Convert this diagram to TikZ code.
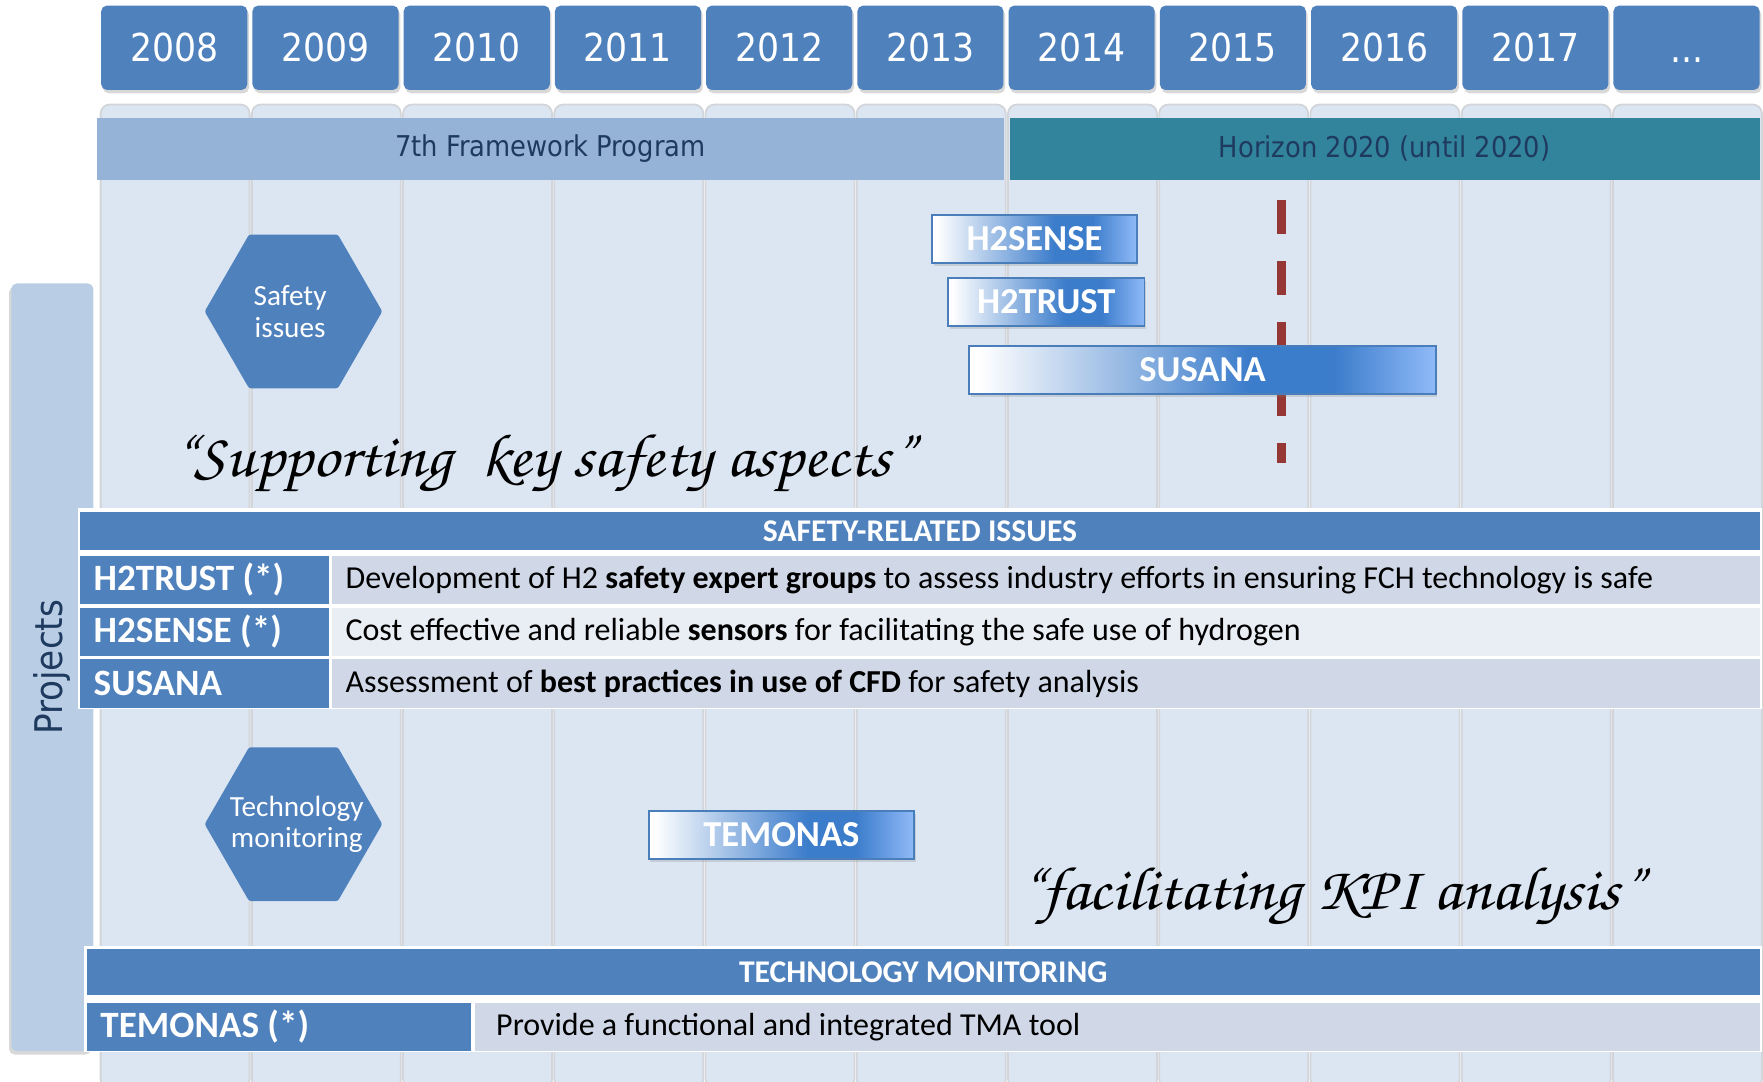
\documentclass[tikz,border=0pt]{standalone}
\usepackage{fontspec}
\usepackage{graphicx}
\setmainfont{Carlito}
\newfontfamily\tahomafont{DejaVu Sans Condensed}
\usetikzlibrary{shadows,shapes.geometric,positioning}

\definecolor{yearblue}{HTML}{4F81BD}
\definecolor{colbg}{HTML}{DCE6F2}
\definecolor{colline}{HTML}{D2D5D9}
\definecolor{fpblue}{HTML}{95B3D7}
\definecolor{horteal}{HTML}{31849B}
\definecolor{progtext}{HTML}{1F3A5F}
\definecolor{sidebg}{HTML}{B9CDE5}
\definecolor{rowdark}{HTML}{D0D8E8}
\definecolor{rowlight}{HTML}{E9EDF4}
\definecolor{barblue}{HTML}{3B7CCB}
\definecolor{barlight}{HTML}{90BAF8}
\definecolor{barrim}{HTML}{4A7EBB}
\definecolor{dashred}{HTML}{953735}

\pgfdeclarehorizontalshading{barshade}{100bp}{color(0bp)=(white); color(26bp)=(white);
  color(55bp)=(barblue); color(64bp)=(barblue); color(75bp)=(barlight); color(100bp)=(barlight)}

\newcommand{\quotefont}{\fontencoding{T1}\fontfamily{pzc}\fontseries{mb}\fontshape{it}\fontsize{31}{33}\selectfont}
\newcommand{\quotetext}[1]{\scalebox{1.075}[1]{#1}}

\tikzset{
  yearbox/.style={fill=yearblue, rounded corners=0.1cm, minimum width=2.6cm, minimum height=1.5cm,
    inner sep=0pt, text=white, font=\tahomafont\fontsize{19.5}{20}\selectfont,
    drop shadow={shadow xshift=0.03cm, shadow yshift=-0.06cm, opacity=0.3}},
  progbar/.style={minimum height=1.1cm, inner sep=0pt, text=progtext,
    font=\tahomafont\fontsize{14.5}{15}\selectfont},
  sidebar/.style={fill=sidebg, rounded corners=0.1cm, rotate=90, minimum width=13.66cm,
    minimum height=1.46cm, inner sep=0pt, text=progtext, font=\tahomafont\fontsize{19.3}{20}\selectfont,
    drop shadow={shadow xshift=-0.04cm, shadow yshift=-0.06cm, opacity=0.3}},
  hexnode/.style={regular polygon, regular polygon sides=6, minimum size=3.16cm, inner sep=0pt,
    fill=yearblue, rounded corners=0.04cm},
  hextext/.style={inner sep=0pt, text=white, align=center, font=\fontsize{14.8}{15.9}\selectfont},
  projbar/.style={shading=barshade, draw=barrim, line width=0.03cm, minimum height=0.86cm,
    inner sep=0pt, text=white, font=\bfseries\fontsize{18.5}{19}\selectfont,
    drop shadow={shadow xshift=0.03cm, shadow yshift=-0.06cm, opacity=0.25}},
  quote/.style={inner sep=0pt, text=black, font=\quotefont},
  headcell/.style={fill=yearblue, inner sep=0pt, text=white, font=\bfseries\fontsize{16}{17}\selectfont},
  namecell/.style={fill=yearblue, inner xsep=0.24cm, inner ysep=0pt, align=flush left, text=white,
    font=\bfseries\fontsize{18.8}{19}\selectfont},
  desccell/.style={inner ysep=0pt, align=flush left, text=black, font=\fontsize{16.2}{17}\selectfont}
}

\begin{document}
\begin{tikzpicture}[x=0.02cm,y=-0.02cm]
  \useasboundingbox[fill=white] (0,0) rectangle (1568,962);

  % year columns
  \foreach \i in {0,...,10}
    \draw[colline, line width=0.032cm, fill=colbg, rounded corners=0.16cm]
      ({89.5+134.5*\i},93) rectangle ({222+134.5*\i},968);
  \foreach \yr [count=\i from 0] in {2008,2009,...,2017}
    \node[yearbox] (yr\yr) at ({155+134.5*\i},42.5) {\yr};
  \node[yearbox] (yrmore) at ({155+134.5*10},42.5) {\vphantom{2}...};

  % programmes
  \node[progbar, fill=fpblue, minimum width=16.14cm] (fp7) at (489.5,132.5) {7th Framework Program};
  \node[progbar, fill=horteal, minimum width=13.34cm] (h2020) at (1231.5,132.5) {Horizon 2020 (until 2020)};

  \node[sidebar] (proj) at (46.5,593.5) {Projects};

  \node[hexnode] (hexsafe) at (261,277) {};
  \node[hextext] (hexsafetext) at (258,277) {Safety\\issues};
  \node[hexnode] (hextech) at (261,733) {};
  \node[hextext] (hextechtext) at (264,733) {Technology\\monitoring};

  % 2015 marker
  \draw[dashred, line width=0.16cm, dash pattern=on 0.6cm off 0.48cm] (1140,178) -- (1140,412);

  \node[projbar, minimum width=3.64cm] (sense) at (920,212.5) {H2SENSE};
  \node[projbar, minimum width=3.5cm] (trust) at (930.5,268.5) {H2TRUST};
  \node[projbar, minimum width=8.3cm] (susana) at (1069.5,329) {SUSANA};
  \node[projbar, minimum width=4.72cm] (temonas) at (695,742.5) {TEMONAS};

  \node[quote, anchor=base west] (qsafe) at (153,424) {\quotetext{``Supporting~ key safety aspects''}};
  \node[quote, anchor=base west] (qkpi) at (906,809) {\quotetext{``facilitating KPI analysis''}};

  % safety table
  \fill[white] (69,452) rectangle (1567,631);
  \node[headcell, anchor=north west, minimum width=29.88cm, minimum height=0.68cm] (safehead) at (71,455) {SAFETY-RELATED ISSUES};
  \node[namecell, anchor=north west, text width=3.94cm, minimum height=0.86cm] (trustname) at (71,494) {H2TRUST (*)};
  \node[desccell, fill=rowdark, anchor=north west, inner xsep=0.24cm, text width=24.92cm, minimum height=0.86cm] (trustdesc) at (295,494)
    {Development of H2 \textbf{safety expert groups} to assess industry efforts in ensuring FCH technology is safe};
  \node[namecell, anchor=north west, text width=3.94cm, minimum height=0.86cm] (sensename) at (71,540) {H2SENSE (*)};
  \node[desccell, fill=rowlight, anchor=north west, inner xsep=0.24cm, text width=24.92cm, minimum height=0.86cm] (sensedesc) at (295,540)
    {Cost effective and reliable \textbf{sensors} for facilitating the safe use of hydrogen};
  \node[namecell, anchor=north west, text width=3.94cm, minimum height=0.86cm] (susananame) at (71,586) {SUSANA};
  \node[desccell, fill=rowdark, anchor=north west, inner xsep=0.24cm, text width=24.92cm, minimum height=0.86cm] (susanadesc) at (295,586)
    {Assessment of \textbf{best practices in use of CFD} for safety analysis};

  % monitoring table
  \fill[white] (75,841) rectangle (1567,936);
  \node[headcell, anchor=north west, minimum width=29.76cm, minimum height=0.82cm] (techhead) at (77,844) {TECHNOLOGY MONITORING};
  \node[namecell, anchor=north west, text width=6.36cm, minimum height=0.84cm] (temonasname) at (77,892) {TEMONAS (*)};
  \node[desccell, fill=rowdark, anchor=north west, inner xsep=0.38cm, text width=22.1cm, minimum height=0.84cm] (temonasdesc) at (422,892)
    {Provide a functional and integrated TMA tool};
\end{tikzpicture}
\end{document}
